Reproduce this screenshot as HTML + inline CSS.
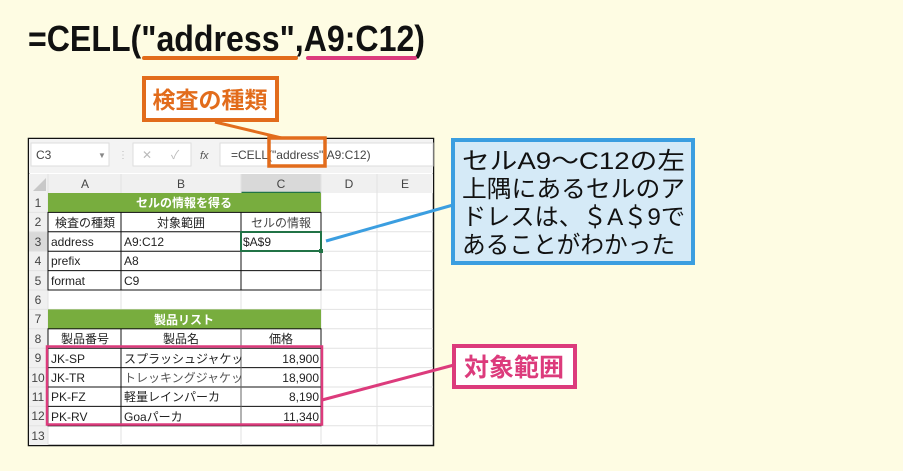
<!DOCTYPE html>
<html><head><meta charset="utf-8"><style>
body{margin:0;background:#fefce3;}
svg{display:block}
text{font-family:"Liberation Sans","Noto Sans CJK JP",sans-serif;}
.c{font-size:12px;fill:#222}
.h{font-size:12px;fill:#444}
</style></head><body>
<svg width="903" height="471" viewBox="0 0 903 471" xmlns="http://www.w3.org/2000/svg">
<rect width="903" height="471" fill="#fefce3"/>
<!-- title -->
<text x="28" y="51" font-size="36" font-weight="bold" fill="#111" textLength="397" lengthAdjust="spacingAndGlyphs">=CELL("address",A9:C12)</text>
<line x1="144" y1="58" x2="296" y2="58" stroke="#e26c1c" stroke-width="4" stroke-linecap="round"/>
<line x1="308" y1="58" x2="415" y2="58" stroke="#dc3b7c" stroke-width="4" stroke-linecap="round"/>
<!-- orange label -->
<rect x="144" y="78" width="133" height="42" fill="#fff" stroke="#e26c1c" stroke-width="4"/>
<text x="210" y="108" font-size="23" font-weight="bold" fill="#e26c1c" text-anchor="middle">検査の種類</text>
<line x1="215" y1="122" x2="290" y2="140" stroke="#e26c1c" stroke-width="3"/>
<!-- sheet -->
<rect x="28.5" y="138.5" width="405" height="307" fill="#fff" stroke="#111" stroke-width="1.5"/>
<rect x="29" y="139" width="404" height="34" fill="#f3f3f3"/>
<rect x="31" y="143" width="78" height="23" fill="#fff" stroke="#ddd"/>
<text x="36" y="159" class="h" font-size="11">C3</text>
<text x="98" y="158" font-size="8" fill="#888">▼</text>
<text x="118" y="158" font-size="10" fill="#bbb">⋮</text>
<rect x="133" y="143" width="58" height="23" fill="#fff" stroke="#ddd"/>
<text x="142" y="159" font-size="12" fill="#bbb">✕</text>
<text x="171" y="159" font-size="12" fill="#bbb">✓</text>
<text x="200" y="159" font-size="11" font-style="italic" fill="#555" font-family="Liberation Serif">fx</text>
<rect x="220" y="143" width="213" height="23" fill="#fff" stroke="#ddd"/>
<text x="231" y="159" class="h" font-size="12">=CELL("address",A9:C12)</text>
<rect x="269" y="138" width="56" height="28" fill="none" stroke="#e26c1c" stroke-width="3.5"/>
<!-- col headers -->
<rect x="29" y="174" width="404" height="19" fill="#f0f0f0"/>
<rect x="241" y="174" width="80" height="19" fill="#d9d9d9"/>
<line x1="241" y1="192.5" x2="321" y2="192.5" stroke="#217346" stroke-width="1.5"/>
<polygon points="46,178 46,191 33,191" fill="#c8c8c8"/>
<g class="h" text-anchor="middle">
<text x="85" y="188">A</text><text x="181" y="188">B</text><text x="281" y="188">C</text><text x="349" y="188">D</text><text x="405" y="188">E</text>
</g>
<!-- row headers -->
<rect x="29" y="193" width="19" height="252" fill="#f0f0f0"/>
<rect x="29" y="231.8" width="19" height="19.4" fill="#d9d9d9"/>
<g stroke="#e2e2e2" stroke-width="1">
<line x1="48" y1="174" x2="48" y2="445"/><line x1="121" y1="174" x2="121" y2="445"/><line x1="241" y1="174" x2="241" y2="445"/><line x1="321" y1="174" x2="321" y2="445"/><line x1="377" y1="174" x2="377" y2="445"/>
<line x1="29" y1="212.4" x2="433" y2="212.4"/><line x1="29" y1="231.8" x2="433" y2="231.8"/><line x1="29" y1="251.2" x2="433" y2="251.2"/><line x1="29" y1="270.6" x2="433" y2="270.6"/><line x1="29" y1="290" x2="433" y2="290"/><line x1="29" y1="309.4" x2="433" y2="309.4"/><line x1="29" y1="328.8" x2="433" y2="328.8"/><line x1="29" y1="348.2" x2="433" y2="348.2"/><line x1="29" y1="367.6" x2="433" y2="367.6"/><line x1="29" y1="387" x2="433" y2="387"/><line x1="29" y1="406.4" x2="433" y2="406.4"/><line x1="29" y1="425.8" x2="433" y2="425.8"/>
</g>
<g class="h" text-anchor="middle" font-size="11">
<text x="38" y="207">1</text><text x="38" y="226">2</text><text x="38" y="246">3</text><text x="38" y="265">4</text><text x="38" y="285">5</text><text x="38" y="304">6</text><text x="38" y="323">7</text><text x="38" y="343">8</text><text x="38" y="362">9</text><text x="38" y="382">10</text><text x="38" y="401">11</text><text x="38" y="420">12</text><text x="38" y="440">13</text>
</g>
<!-- green headers -->
<rect x="48" y="193" width="273" height="19.4" fill="#78ad3e"/>
<text x="184" y="207" font-size="12" font-weight="bold" fill="#fff" text-anchor="middle">セルの情報を得る</text>
<rect x="48" y="309.4" width="273" height="19.4" fill="#78ad3e"/>
<text x="184" y="324" font-size="12" font-weight="bold" fill="#fff" text-anchor="middle">製品リスト</text>
<!-- table borders -->
<g stroke="#111" stroke-width="1" fill="none">
<rect x="48" y="212.4" width="273" height="77.6"/>
<line x1="48" y1="231.8" x2="321" y2="231.8"/><line x1="48" y1="251.2" x2="321" y2="251.2"/><line x1="48" y1="270.6" x2="321" y2="270.6"/>
<line x1="121" y1="212.4" x2="121" y2="290"/><line x1="241" y1="212.4" x2="241" y2="290"/>
<rect x="48" y="328.8" width="273" height="97"/>
<line x1="121" y1="328.8" x2="121" y2="425.8"/>
<line x1="48" y1="348.2" x2="321" y2="348.2"/><line x1="48" y1="367.6" x2="321" y2="367.6"/><line x1="48" y1="387" x2="321" y2="387"/><line x1="48" y1="406.4" x2="321" y2="406.4"/>
</g>
<g stroke="#666" stroke-width="1"><line x1="241" y1="328.8" x2="241" y2="425.8"/></g>
<rect x="241" y="232" width="80" height="19" fill="none" stroke="#217346" stroke-width="2"/>
<rect x="319" y="249" width="4" height="4" fill="#217346"/>
<g class="c">
<text x="85" y="227" text-anchor="middle">検査の種類</text><text x="181" y="227" text-anchor="middle">対象範囲</text><text x="281" y="227" text-anchor="middle" fill="#444">セルの情報</text>
<text x="51" y="246">address</text><text x="124" y="246">A9:C12</text><text x="243" y="246">$A$9</text>
<text x="51" y="265">prefix</text><text x="124" y="265">A8</text>
<text x="51" y="285">format</text><text x="124" y="285">C9</text>
<text x="85" y="343" text-anchor="middle">製品番号</text><text x="181" y="343" text-anchor="middle">製品名</text><text x="281" y="343" text-anchor="middle">価格</text>
<text x="51" y="363">JK-SP</text><text x="124" y="363">スプラッシュジャケッ</text><text x="319" y="363" text-anchor="end">18,900</text>
<text x="51" y="382">JK-TR</text><text x="124" y="382" fill="#555">トレッキングジャケッ</text><text x="319" y="382" text-anchor="end">18,900</text>
<text x="51" y="401">PK-FZ</text><text x="124" y="401">軽量レインパーカ</text><text x="319" y="401" text-anchor="end">8,190</text>
<text x="51" y="421">PK-RV</text><text x="124" y="421">Goaパーカ</text><text x="319" y="421" text-anchor="end">11,340</text>
</g>
<rect x="47" y="346.5" width="275" height="78" fill="none" stroke="#dc3b7c" stroke-width="2.5"/>
<!-- blue callout -->
<line x1="326" y1="241" x2="453" y2="205" stroke="#3b9ee0" stroke-width="3"/>
<rect x="453" y="140" width="240" height="123" fill="#d5eaf7" stroke="#3b9ee0" stroke-width="4"/>
<g font-size="24" fill="#111">
<text x="462" y="169" textLength="223" lengthAdjust="spacingAndGlyphs">セルA9～C12の左</text>
<text x="462" y="197" textLength="223" lengthAdjust="spacingAndGlyphs">上隅にあるセルのア</text>
<text x="462" y="225" textLength="223" lengthAdjust="spacingAndGlyphs">ドレスは、＄A＄9で</text>
<text x="462" y="253" textLength="213" lengthAdjust="spacingAndGlyphs">あることがわかった</text>
</g>
<!-- pink callout -->
<line x1="322" y1="400" x2="454" y2="365" stroke="#dc3b7c" stroke-width="3"/>
<rect x="454" y="346" width="121" height="41" fill="#fff" stroke="#dc3b7c" stroke-width="4"/>
<text x="514" y="376" font-size="25" font-weight="bold" fill="#dc3b7c" text-anchor="middle">対象範囲</text>
</svg>
</body></html>
